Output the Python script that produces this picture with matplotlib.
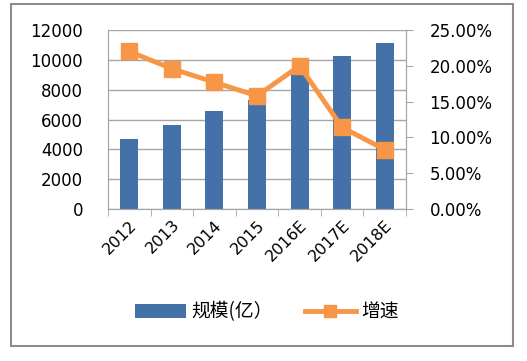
import matplotlib
matplotlib.use("Agg")
import matplotlib.pyplot as plt
from matplotlib.ticker import FuncFormatter
from matplotlib.patches import Rectangle

plt.rcParams['font.family'] = ['DejaVu Sans', 'Noto Sans CJK SC']

categories = ["2012", "2013", "2014", "2015", "2016E", "2017E", "2018E"]
scale = [4700, 5600, 6600, 7300, 9200, 10250, 11100]
growth = [22.0, 19.6, 17.7, 15.8, 20.0, 11.4, 8.3]

bar_color = "#4472A8"
line_color = "#F79646"
grid_color = "#A6A6A6"

fig = plt.figure(figsize=(5.27, 3.61), dpi=100)
fig.patches.append(Rectangle((11/527, 1-346/361), (513-11)/527, (346-4)/361,
                             transform=fig.transFigure,
                             fill=False, edgecolor="#8C8C8C", linewidth=1.5))
ax = fig.add_axes([108/527, 1-209/361, (406-108)/527, (209-30)/361])
x = list(range(len(categories)))
ax.bar(x, scale, width=0.42, color=bar_color, zorder=2, label="规模(亿）")
ax.set_ylim(0, 12000)
ax.set_xlim(-0.5, len(categories) - 0.5)
ax.set_yticks(range(0, 12001, 2000))
ax.grid(axis='y', color=grid_color, linewidth=1, zorder=0)
ax.set_axisbelow(True)
ax.set_xticks(x)
ax.set_xticklabels(categories, rotation=45, ha='right', rotation_mode='anchor', fontsize=11.5)
ax.tick_params(axis='x', length=0, pad=6)
ax.set_xticks([i + 0.5 for i in range(-1, len(categories))], minor=True)
ax.tick_params(axis='x', which='minor', length=5, color=grid_color)
ax.tick_params(axis='y', length=0, labelsize=12, pad=18)
ax.spines['top'].set_visible(False)
for s in ['left', 'bottom', 'right']:
    ax.spines[s].set_color(grid_color)

ax2 = ax.twinx()
ax2.plot(x, growth, color=line_color, linewidth=3.5, marker='s', markersize=11,
         zorder=3, label="增速")
ax2.set_ylim(0, 25)
ax2.set_yticks([0, 5, 10, 15, 20, 25])
ax2.yaxis.set_major_formatter(FuncFormatter(lambda v, p: f"{v:.2f}%"))
ax2.tick_params(axis='y', length=5, color=grid_color, labelsize=12, pad=12)
ax2.spines['top'].set_visible(False)
for s in ['left', 'bottom', 'right']:
    ax2.spines[s].set_color(grid_color)

h1, l1 = ax.get_legend_handles_labels()
h2, l2 = ax2.get_legend_handles_labels()
fig.legend(h1 + h2, l1 + l2, loc='center', bbox_to_anchor=(267/527, 1-312/361), ncol=2,
           frameon=False, prop={'family': ['Noto Sans CJK SC', 'DejaVu Sans'], 'size': 13.5},
           handlelength=2.7, columnspacing=1.7, handletextpad=0.3, markerscale=0.8)

fig.savefig("out.png", dpi=100)
